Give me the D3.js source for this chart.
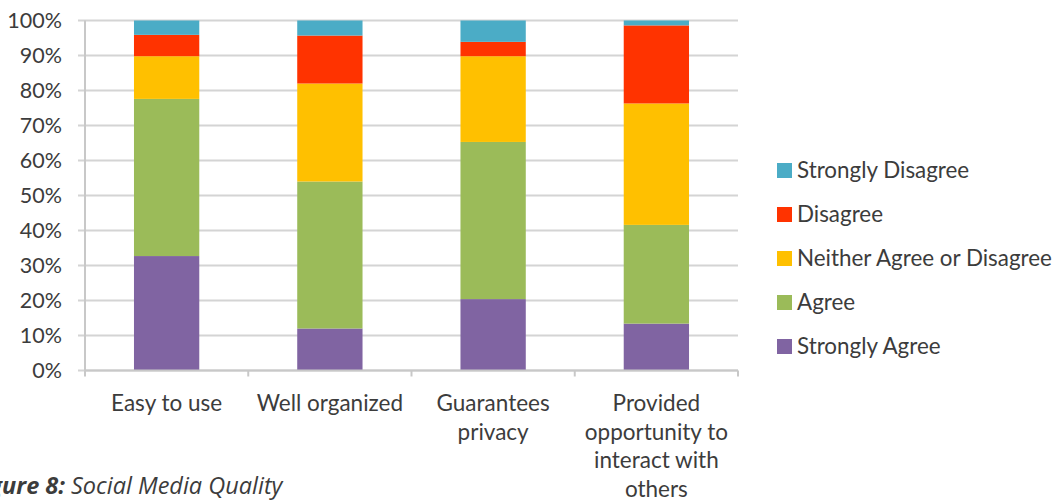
<!DOCTYPE html>
<html>
<head>
<meta charset="utf-8">
<script src="https://cdn.jsdelivr.net/npm/d3@7"></script>
<style>
  html, body { margin: 0; padding: 0; background: #fff; }
  svg { display: block; }
  text { font-family: Lato, "Open Sans", sans-serif; fill: #3c3c3c; }
</style>
</head>
<body>
<svg id="chart" width="1055" height="501"></svg>
<script>
// Survey categories and their wrapped axis labels
const categories = ["Easy to use", "Well organized", "Guarantees privacy", "Provided opportunity to interact with others"];
const categoryLines = [
  ["Easy to use"],
  ["Well organized"],
  ["Guarantees", "privacy"],
  ["Provided", "opportunity to", "interact with", "others"]
];

// Response shares (%) per category, bottom to top of each stack
const stronglyAgree    = [32.7, 12.0, 20.4, 13.4];
const agree            = [44.9, 42.0, 44.9, 28.2];
const neither          = [12.2, 28.0, 24.5, 34.7];
const disagree         = [ 6.1, 13.7,  4.1, 22.3];
const stronglyDisagree = [ 4.1,  4.3,  6.1,  1.4];

const seriesNames  = ["Strongly Agree", "Agree", "Neither Agree or Disagree", "Disagree", "Strongly Disagree"];
const seriesColors = ["#8064A2", "#9BBB59", "#FFC000", "#FF3300", "#4BACC6"];
const yTicks = [0, 10, 20, 30, 40, 50, 60, 70, 80, 90, 100];

const seriesValues = [stronglyAgree, agree, neither, disagree, stronglyDisagree];
const rows = categories.map((c, i) => {
  const r = { category: c };
  seriesNames.forEach((s, k) => { r[s] = seriesValues[k][i]; });
  return r;
});

const svg = d3.select("#chart");
const plot = { left: 85, right: 738, top: 20.5, bottom: 370.5 };

const x = d3.scaleBand()
  .domain(categories)
  .range([plot.left, plot.right])
  .paddingInner(0.6)
  .paddingOuter(0.3);

const y = d3.scaleLinear()
  .domain([0, 100])
  .range([plot.bottom, plot.top]);

const color = d3.scaleOrdinal().domain(seriesNames).range(seriesColors);

// Horizontal gridlines
svg.append("g")
  .selectAll("line")
  .data(yTicks)
  .join("line")
  .attr("x1", plot.left - 7)
  .attr("x2", plot.right)
  .attr("y1", d => y(d))
  .attr("y2", d => y(d))
  .attr("stroke", "#d4d4d4")
  .attr("stroke-width", 2);

// Y axis line and labels
svg.append("line")
  .attr("x1", plot.left).attr("x2", plot.left)
  .attr("y1", plot.top).attr("y2", plot.bottom)
  .attr("stroke", "#c8c8c8").attr("stroke-width", 2);

svg.append("g")
  .selectAll("text")
  .data(yTicks)
  .join("text")
  .attr("x", plot.left - 23)
  .attr("y", d => y(d))
  .attr("dy", "0.36em")
  .attr("text-anchor", "end")
  .style("font-size", "21.5px")
  .text(d => d + "%");

// Stacked bars
const stack = d3.stack().keys(seriesNames);
const layers = stack(rows);

svg.append("g")
  .selectAll("g")
  .data(layers)
  .join("g")
  .attr("fill", d => color(d.key))
  .selectAll("rect")
  .data(d => d)
  .join("rect")
  .attr("x", d => x(d.data.category))
  .attr("width", x.bandwidth())
  .attr("y", d => y(d[1]))
  .attr("height", d => y(d[0]) - y(d[1]));

// X axis baseline and tick marks at category boundaries
svg.append("line")
  .attr("x1", plot.left).attr("x2", plot.right)
  .attr("y1", plot.bottom).attr("y2", plot.bottom)
  .attr("stroke", "#c8c8c8").attr("stroke-width", 2);

const boundaries = d3.range(categories.length + 1).map(i => plot.left + i * x.step());
svg.append("g")
  .selectAll("line")
  .data(boundaries)
  .join("line")
  .attr("x1", d => d).attr("x2", d => d)
  .attr("y1", plot.bottom).attr("y2", plot.bottom + 6)
  .attr("stroke", "#c8c8c8").attr("stroke-width", 2);

// Category labels
const xl = svg.append("g")
  .selectAll("text")
  .data(categories)
  .join("text")
  .attr("text-anchor", "middle")
  .style("font-size", "22.5px");

xl.each(function (c, i) {
  const cx = x(c) + x.bandwidth() / 2;
  d3.select(this).selectAll("tspan")
    .data(categoryLines[i])
    .join("tspan")
    .attr("x", cx)
    .attr("y", (d, j) => 411 + j * 28.5)
    .text(d => d);
});

// Legend, top entry is the top of the stack
const legendItems = seriesNames.slice().reverse();
const legend = svg.append("g")
  .selectAll("g")
  .data(legendItems)
  .join("g")
  .attr("transform", (d, i) => `translate(777, ${170 + i * 44})`);

legend.append("rect")
  .attr("x", 0).attr("y", -7)
  .attr("width", 15).attr("height", 15)
  .attr("fill", d => color(d));

legend.append("text")
  .attr("x", 20)
  .attr("y", 0)
  .attr("dy", "0.36em")
  .style("font-size", "22.4px")
  .text(d => d);

// Figure caption, clipped at the left edge
const cap = svg.append("text")
  .attr("y", 494)
  .style("font-size", "23.5px")
  .style("font-style", "italic")
  .style("font-family", "'Open Sans', sans-serif");
cap.append("tspan")
  .attr("x", 65).attr("text-anchor", "end")
  .style("font-weight", "bold")
  .text("Figure 8:");
cap.append("tspan")
  .attr("x", 71).attr("text-anchor", "start")
  .text("Social Media Quality");
</script>
</body>
</html>
